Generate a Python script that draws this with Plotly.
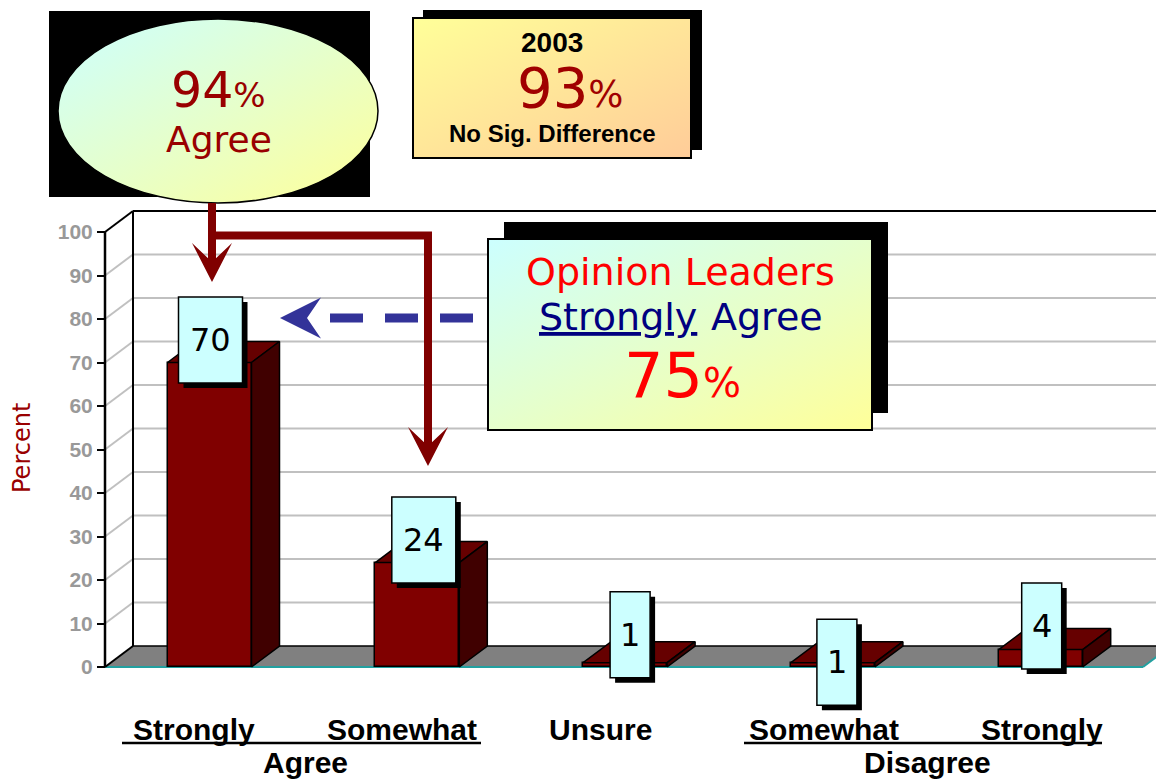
"""Opinion leaders agreement chart, redrawn as a fake-3D column chart."""

import base64

import plotly.graph_objects as go

# ---- data -------------------------------------------------------------
CATEGORIES = ["Strongly", "Somewhat", "Unsure", "Somewhat", "Strongly"]
GROUPS = ["Agree", "Disagree"]
PERCENT = [70, 24, 1, 1, 4]
Y_TICKS = list(range(0, 101, 10))

# value tags sit a little off the bars, as in the slide
TAG_LEVEL = [75.2, 29.2, 7.4, 1.1, 9.4]
TAG_NUDGE = [1, 6.5, 5, 4, 1]
CAT_NUDGE = [-16, -15, -25, -9, 1]

# ---- geometry (reference pixels; the page body adds an 8px margin) ---
OFF = 8
W, H = 1164 - OFF, 780 - OFF
PLOT_L, PLOT_R, PLOT_T, PLOT_B = 100, 1164, 205, 720
L, R, T, B = PLOT_L - OFF, 0, PLOT_T - OFF, H - (PLOT_B - OFF)
PX_PER_CAT = 207.8
PX_PER_PCT = 4.35
FIRST_BAR_PX = 209.5
ZERO_PX = 667

x_lo = -(FIRST_BAR_PX - PLOT_L) / PX_PER_CAT
x_hi = x_lo + (PLOT_R - PLOT_L) / PX_PER_CAT
y_lo = -(PLOT_B - ZERO_PX) / PX_PER_PCT
y_hi = y_lo + (PLOT_B - PLOT_T) / PX_PER_PCT

wall_x = -(FIRST_BAR_PX - 105) / PX_PER_CAT
DX = 28 / PX_PER_CAT
DY = 21 / PX_PER_PCT
BAR_W = 84 / PX_PER_CAT
floor_end = (1143 - FIRST_BAR_PX) / PX_PER_CAT

DARK_RED = "#990000"
GRID = "#c0c0c0"


def px(x):
    return (x - PLOT_L) / (PLOT_R - PLOT_L)


def py(y):
    return (PLOT_B - y) / (PLOT_B - PLOT_T)


def paper_path(points, close=True):
    d = "M" + " L".join(f"{px(x):.5f},{py(y):.5f}" for x, y in points)
    return d + (" Z" if close else "")


def data_path(points):
    return "M" + " L".join(f"{x:.5f},{y:.5f}" for x, y in points) + " Z"


def callout_svg(box, shadow, body, c1, c2, ellipse=False):
    bx0, by0, bx1, by1 = box
    w, h = bx1 - bx0, by1 - by0
    sx0, sy0, sx1, sy1 = (shadow[0] - bx0, shadow[1] - by0, shadow[2] - bx0, shadow[3] - by0)
    fx0, fy0, fx1, fy1 = (body[0] - bx0, body[1] - by0, body[2] - bx0, body[3] - by0)
    if ellipse:
        shape = (
            f'<ellipse cx="{(fx0 + fx1) / 2}" cy="{(fy0 + fy1) / 2}" rx="{(fx1 - fx0) / 2}" '
            f'ry="{(fy1 - fy0) / 2}" fill="url(#g)" stroke="#000" stroke-width="1.5"/>'
        )
    else:
        shape = (
            f'<rect x="{fx0}" y="{fy0}" width="{fx1 - fx0}" height="{fy1 - fy0}" '
            f'fill="url(#g)" stroke="#000" stroke-width="2"/>'
        )
    svg = (
        f'<svg xmlns="http://www.w3.org/2000/svg" width="{w}" height="{h}" viewBox="0 0 {w} {h}">'
        f'<defs><linearGradient id="g" x1="0" y1="0" x2="1" y2="1">'
        f'<stop offset="0" stop-color="{c1}"/><stop offset="1" stop-color="{c2}"/>'
        f"</linearGradient></defs>"
        f'<rect x="{sx0}" y="{sy0}" width="{sx1 - sx0}" height="{sy1 - sy0}" fill="#000"/>'
        f"{shape}</svg>"
    )
    src = "data:image/svg+xml;base64," + base64.b64encode(svg.encode()).decode()
    return dict(
        source=src,
        xref="paper",
        yref="paper",
        x=px(bx0),
        y=py(by0),
        sizex=w / (PLOT_R - PLOT_L),
        sizey=h / (PLOT_B - PLOT_T),
        xanchor="left",
        yanchor="top",
        sizing="stretch",
        layer="above",
    )


# ---- traces -----------------------------------------------------------
positions = list(range(len(PERCENT)))

fig = go.Figure()
fig.add_trace(
    go.Bar(
        x=positions,
        y=PERCENT,
        width=BAR_W,
        marker=dict(color="#800000", line=dict(color="black", width=1.5)),
        hoverinfo="skip",
        showlegend=False,
    )
)

top_x, top_y, side_x, side_y = [], [], [], []
for pos, value in zip(positions, PERCENT):
    left, right = pos - BAR_W / 2, pos + BAR_W / 2
    top_x += [left, left + DX, right + DX, right, left, None]
    top_y += [value, value + DY, value + DY, value, value, None]
    side_x += [right, right, right + DX, right + DX, right, None]
    side_y += [0, value, value + DY, DY, 0, None]

fig.add_trace(
    go.Scatter(
        x=top_x, y=top_y, mode="lines", fill="toself", fillcolor="#660000",
        line=dict(color="black", width=1.5), hoverinfo="skip", showlegend=False,
    )
)
fig.add_trace(
    go.Scatter(
        x=side_x, y=side_y, mode="lines", fill="toself", fillcolor="#400000",
        line=dict(color="black", width=1.5), hoverinfo="skip", showlegend=False,
    )
)

# ---- walls, grid, floor ----------------------------------------------
shapes = []
for v in Y_TICKS[1:]:
    colour = "black" if v == Y_TICKS[-1] else GRID
    shapes.append(dict(type="line", xref="x", yref="y", x0=wall_x, y0=v, x1=wall_x + DX, y1=v + DY,
                       line=dict(color=colour, width=2), layer="below"))
    shapes.append(dict(type="line", xref="x", yref="y", x0=wall_x + DX, y0=v + DY, x1=x_hi + 1, y1=v + DY,
                       line=dict(color=colour, width=2), layer="below"))

shapes.append(dict(type="path", xref="x", yref="y", layer="below",
                   path=data_path([(wall_x, 0), (wall_x + DX, DY), (floor_end + DX, DY), (floor_end, 0)]),
                   fillcolor="#808080", line=dict(width=0)))
shapes += [
    dict(type="line", xref="x", yref="y", x0=wall_x + DX, y0=DY, x1=floor_end + DX, y1=DY,
         line=dict(color="black", width=1.5), layer="below"),
    dict(type="line", xref="x", yref="y", x0=wall_x, y0=0, x1=floor_end, y1=0,
         line=dict(color="#22a0a0", width=2), layer="below"),
    dict(type="line", xref="x", yref="y", x0=floor_end, y0=0, x1=floor_end + DX, y1=DY,
         line=dict(color="#22a0a0", width=2), layer="below"),
    dict(type="line", xref="x", yref="y", x0=wall_x, y0=0, x1=wall_x + DX, y1=DY,
         line=dict(color="black", width=2), layer="below"),
    dict(type="line", xref="x", yref="y", x0=wall_x + DX, y0=DY, x1=wall_x + DX, y1=100 + DY,
         line=dict(color="black", width=2), layer="below"),
    dict(type="line", xref="x", yref="y", x0=wall_x, y0=0, x1=wall_x, y1=100,
         line=dict(color="black", width=2.5), layer="above"),
]

# ---- value tags -------------------------------------------------------
annotations = []
for pos, value, level, nudge in zip(positions, PERCENT, TAG_LEVEL, TAG_NUDGE):
    half = (40 + 24 * (len(str(value)) - 1)) / 2
    common = dict(type="rect", xref="x", yref="y", xsizemode="pixel", ysizemode="pixel",
                  xanchor=pos, yanchor=level, layer="above")
    shapes.append(dict(common, x0=nudge - half + 5, x1=nudge + half + 5, y0=-48, y1=38,
                       fillcolor="black", line=dict(width=0)))
    shapes.append(dict(common, x0=nudge - half, x1=nudge + half, y0=-43, y1=43,
                       fillcolor="#ccffff", line=dict(color="black", width=1.5)))
    annotations.append(dict(x=pos, y=level, xref="x", yref="y", xshift=nudge, text=str(value),
                            showarrow=False, xanchor="center", yanchor="middle",
                            font=dict(family="DejaVu Sans", size=32, color="black")))

# ---- arrows -----------------------------------------------------------
RED = "#800000"
shapes.append(dict(type="path", xref="paper", yref="paper",
                   path=paper_path([(212, 203), (212, 266)], close=False) + " "
                   + paper_path([(212, 235.5), (428, 235.5), (428, 450)], close=False),
                   line=dict(color=RED, width=8), layer="above"))
for tip_x, tip_y in [(212, 282), (428, 466)]:
    shapes.append(dict(type="path", xref="paper", yref="paper", layer="above",
                       path=paper_path([(tip_x, tip_y), (tip_x - 20, tip_y - 39),
                                        (tip_x, tip_y - 20), (tip_x + 20, tip_y - 39)]),
                       fillcolor=RED, line=dict(width=0)))
shapes.append(dict(type="line", xref="paper", yref="paper", x0=px(473), y0=py(318), x1=px(326), y1=py(318),
                   line=dict(color="#333399", width=9, dash="33px,22px"), layer="above"))
shapes.append(dict(type="path", xref="paper", yref="paper", layer="above",
                   path=paper_path([(280, 318), (321, 297.5), (307, 318), (321, 338.5)]),
                   fillcolor="#333399", line=dict(width=0)))

# ---- category labels --------------------------------------------------
LABEL_FONT = dict(family="Liberation Sans, Arial", size=30, color="black", weight="bold")
for pos, label, nudge in zip(positions, CATEGORIES, CAT_NUDGE):
    annotations.append(dict(x=pos, y=py(729), xref="x", yref="paper", xshift=nudge, text=label,
                            showarrow=False, xanchor="center", yanchor="middle", font=LABEL_FONT))
for (x0, x1), group in zip([(122, 481), (744, 1102)], GROUPS):
    shapes.append(dict(type="line", xref="paper", yref="paper", x0=px(x0), x1=px(x1), y0=py(743), y1=py(743),
                       line=dict(color="black", width=2.5)))
    annotations.append(dict(x=px((x0 + x1) / 2 + 4), y=py(762), xref="paper", yref="paper", text=group,
                            showarrow=False, xanchor="center", yanchor="middle", font=LABEL_FONT))


# ---- callouts ---------------------------------------------------------
def note(x, y, text, size, color, family="DejaVu Sans", **kw):
    font = dict(family=family, size=size, color=color)
    font.update(kw.pop("font", {}))
    kw.setdefault("xanchor", "center")
    annotations.append(dict(x=px(x), y=py(y), xref="paper", yref="paper", text=text,
                            showarrow=False, yanchor="middle", font=font, **kw))


images = [
    callout_svg((47, 9, 380, 205), (49, 11, 370, 197), (58, 19, 378, 203), "#ccffff", "#ffff99", ellipse=True),
    callout_svg((411, 8, 704, 160), (423, 10, 702, 150), (413, 18, 691, 158), "#ffff99", "#ffcc99"),
    callout_svg((486, 220, 890, 432), (504, 222, 888, 413), (488, 239, 872, 430), "#ccffff", "#ffff99"),
]

note(218, 90, "94<span style='font-size:34px'>%</span>", 49, DARK_RED)
note(219, 139, "Agree", 36, DARK_RED)
note(552, 43, "2003", 28, "black", family="Liberation Sans, Arial", font=dict(weight="bold"))
note(570, 87.5, "93<span style='font-size:37px'>%</span>", 56, "#a00000")
note(552, 134, "No Sig. Difference", 24, "black", family="Liberation Sans, Arial", font=dict(weight="bold"))
note(680, 271.5, "Opinion Leaders", 38, "#ff0000")
note(699, 316.5, "Strongly", 38, "#000080", xanchor="right", font=dict(lineposition="under"))
note(709, 316.5, "Agree", 38, "#000080", xanchor="left")
note(682, 375.5, "75<span style='font-size:40px'>%</span>", 62, "#ff0000")
note(22, 448, "Percent", 24, DARK_RED, textangle=-90)

fig.update_layout(
    width=W,
    height=H,
    margin=dict(l=L, r=R, t=T, b=B),
    paper_bgcolor="white",
    plot_bgcolor="white",
    showlegend=False,
    bargap=0,
    xaxis=dict(range=[x_lo, x_hi], visible=False, fixedrange=True),
    yaxis=dict(
        range=[y_lo, y_hi],
        anchor="free",
        position=px(105),
        tickvals=Y_TICKS,
        ticktext=[f"<b>{v}</b>" for v in Y_TICKS],
        ticks="outside",
        ticklen=8,
        tickwidth=2,
        tickcolor="black",
        showgrid=False,
        zeroline=False,
        showline=False,
        tickfont=dict(family="Liberation Sans, Arial", size=21, color="#999999"),
        fixedrange=True,
    ),
    shapes=shapes,
    annotations=annotations,
    images=images,
)

fig.write_html("out.html")
